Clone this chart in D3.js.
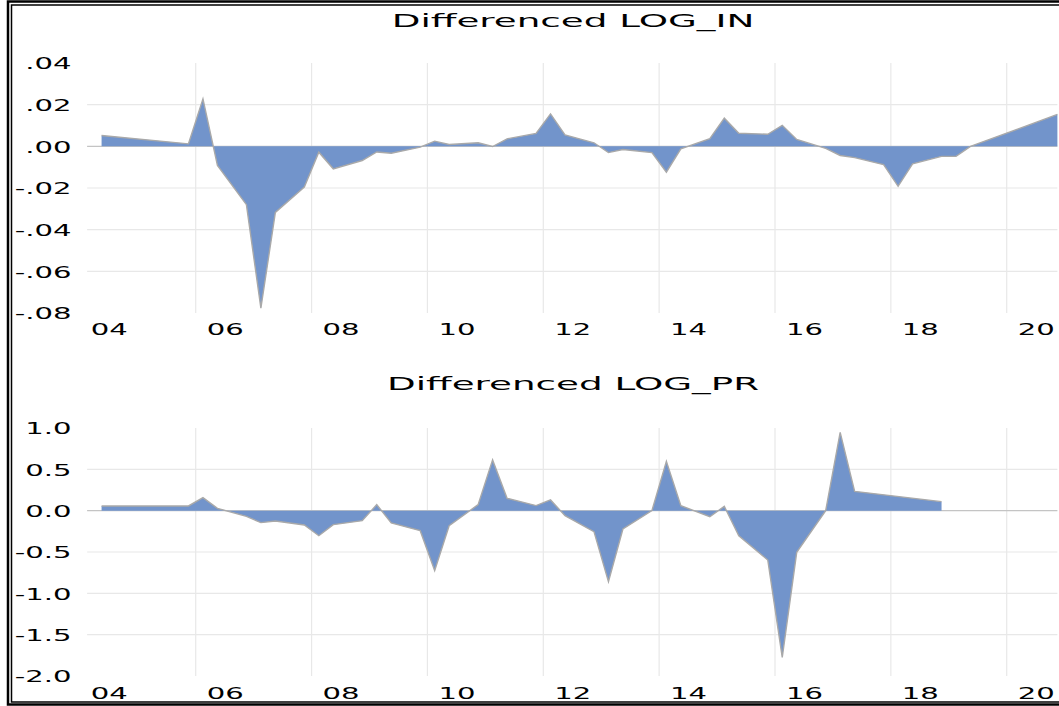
<!DOCTYPE html>
<html>
<head>
<meta charset="utf-8">
<script src="https://cdn.jsdelivr.net/npm/d3@7"></script>
<style>
  html, body { margin: 0; padding: 0; background: #fff; }
  text { font-family: "DejaVu Sans", Verdana, sans-serif; fill: #000; }
</style>
</head>
<body>
<div id="chart"></div>
<script>
// Data (quarterly, vertices)
const inQuarters = ["2004Q2","2005Q4","2006Q1","2006Q2","2006Q4","2007Q1","2007Q2","2007Q4",
  "2008Q1","2008Q2","2008Q4","2009Q1","2009Q2","2009Q4","2010Q1","2010Q2","2010Q4","2011Q1",
  "2011Q2","2011Q4","2012Q1","2012Q2","2012Q4","2013Q1","2013Q2","2013Q4","2014Q1","2014Q2",
  "2014Q4","2015Q1","2015Q2","2015Q4","2016Q1","2016Q2","2016Q4","2017Q1","2017Q2","2017Q4",
  "2018Q1","2018Q2","2018Q4","2019Q1","2019Q2","2020Q4"];
const inValues = [0.0052, 0.0012, 0.0228, -0.0092, -0.0280, -0.0777, -0.0317, -0.0195,
  -0.0028, -0.0108, -0.0068, -0.0027, -0.0033, -0.0004, 0.0025, 0.0009, 0.0017, -0.0001,
  0.0036, 0.0062, 0.0156, 0.0055, 0.0017, -0.0030, -0.0015, -0.0030, -0.0124, -0.0012,
  0.0037, 0.0135, 0.0063, 0.0058, 0.0101, 0.0033, -0.0010, -0.0044, -0.0054, -0.0088,
  -0.0192, -0.0084, -0.0048, -0.0048, 0.0000, 0.0153];

const prQuarters = ["2004Q2","2005Q4","2006Q1","2006Q2","2006Q4","2007Q1","2007Q2","2007Q4",
  "2008Q1","2008Q2","2008Q4","2009Q1","2009Q2","2009Q4","2010Q1","2010Q2","2010Q4","2011Q1",
  "2011Q2","2011Q4","2012Q1","2012Q2","2012Q4","2013Q1","2013Q2","2013Q4","2014Q1","2014Q2",
  "2014Q4","2015Q1","2015Q2","2015Q4","2016Q1","2016Q2","2016Q4","2017Q1","2017Q2","2018Q4"];
const prValues = [0.057, 0.057, 0.157, 0.028, -0.069, -0.145, -0.125, -0.173,
  -0.303, -0.169, -0.121, 0.073, -0.149, -0.242, -0.726, -0.182, 0.073, 0.614,
  0.149, 0.061, 0.130, -0.060, -0.254, -0.860, -0.222, 0.000, 0.597, 0.060,
  -0.073, 0.052, -0.303, -0.597, -1.776, -0.504, 0.000, 0.948, 0.234, 0.109];

const inTickValues = [0.04, 0.02, 0, -0.02, -0.04, -0.06, -0.08];
const inTickLabels = [".04", ".02", ".00", "-.02", "-.04", "-.06", "-.08"];
const prTickValues = [1, 0.5, 0, -0.5, -1, -1.5, -2];
const prTickLabels = ["1.0", "0.5", "0.0", "-0.5", "-1.0", "-1.5", "-2.0"];

const yearGrid = [2006, 2008, 2010, 2012, 2014, 2016, 2018, 2020];
const yearLabelPos = [2004.5, 2006.5, 2008.5, 2010.5, 2012.5, 2014.5, 2016.5, 2018.5, 2020.5];
const yearLabels = ["04", "06", "08", "10", "12", "14", "16", "18", "20"];

// Layout
const W = 1059, H = 706;
const left = 87.1, right = 1057.4;
const stretchTick = 1.82, stretchTitle = 2.07;
const fillColor = "#7294cb", lineColor = "#a9a9a9", gridColor = "#e8e8e8", zeroColor = "#c4c4c4";

const svg = d3.select("#chart").append("svg")
  .attr("width", W).attr("height", H);

svg.append("rect").attr("width", W).attr("height", H).attr("fill", "#fff");

const x = d3.scaleLinear().domain([2004.125, 2020.875]).range([left, right]);
const qToYear = q => +q.slice(0, 4) + (+q.slice(5) - 0.5) / 4;

const panels = [
  { title: "Differenced LOG_IN", quarters: inQuarters, values: inValues,
    ticks: inTickValues, labels: inTickLabels, domain: [-0.08, 0.04],
    top: 63, bottom: 313, titleY: 27, xLabelY: 335 },
  { title: "Differenced LOG_PR", quarters: prQuarters, values: prValues,
    ticks: prTickValues, labels: prTickLabels, domain: [-2, 1],
    top: 428, bottom: 676, titleY: 390, xLabelY: 699 }
];

panels.forEach(p => {
  const y = d3.scaleLinear().domain(p.domain).range([p.bottom, p.top]);
  const g = svg.append("g");

  // title
  g.append("text")
    .attr("transform", `translate(573,${p.titleY}) scale(${stretchTitle},1)`)
    .attr("text-anchor", "middle")
    .style("font-size", "18px")
    .text(p.title);

  // horizontal grid (interior ticks only)
  g.selectAll(".hgrid")
    .data(p.ticks.filter(t => t !== 0 && t !== p.domain[0] && t !== p.domain[1]))
    .join("line")
    .attr("x1", left).attr("x2", right)
    .attr("y1", d => y(d)).attr("y2", d => y(d))
    .attr("stroke", gridColor).attr("stroke-width", 1.2);

  // vertical grid
  g.selectAll(".vgrid").data(yearGrid).join("line")
    .attr("x1", d => x(d)).attr("x2", d => x(d))
    .attr("y1", p.top).attr("y2", p.bottom)
    .attr("stroke", gridColor).attr("stroke-width", 1.2);

  // zero line
  g.append("line")
    .attr("x1", left).attr("x2", right)
    .attr("y1", y(0)).attr("y2", y(0))
    .attr("stroke", zeroColor).attr("stroke-width", 1.2);

  const pts = p.quarters.map((q, i) => [qToYear(q), p.values[i]]);

  g.append("path")
    .datum(pts)
    .attr("fill", fillColor)
    .attr("d", d3.area().x(d => x(d[0])).y0(y(0)).y1(d => y(d[1])));

  g.append("path")
    .datum(pts)
    .attr("fill", "none")
    .attr("stroke", lineColor)
    .attr("stroke-width", 1.4)
    .attr("stroke-linejoin", "miter")
    .attr("d", d3.line().x(d => x(d[0])).y(d => y(d[1])));

  // y axis labels
  const yAxis = g.append("g")
    .attr("transform", `translate(${left},0)`)
    .call(d3.axisLeft(y).tickValues(p.ticks)
      .tickFormat((d, i) => p.labels[i]).tickSize(0).tickPadding(8.5));
  yAxis.select(".domain").remove();
  yAxis.selectAll("text")
    .attr("transform", `scale(${stretchTick},1)`)
    .attr("dy", "0.36em")
    .style("font-size", "16px")
    .style("font-family", "'DejaVu Sans', Verdana, sans-serif")
    .attr("fill", "#000");

  // x axis labels
  const xAxis = g.append("g")
    .attr("transform", `translate(0,${p.xLabelY})`)
    .call(d3.axisBottom(x).tickValues(yearLabelPos)
      .tickFormat((d, i) => yearLabels[i]).tickSize(0).tickPadding(0));
  xAxis.select(".domain").remove();
  xAxis.selectAll("text")
    .attr("y", 0).attr("dy", 0)
    .attr("transform", `scale(${stretchTick},1)`)
    .style("font-size", "16px")
    .style("font-family", "'DejaVu Sans', Verdana, sans-serif")
    .attr("fill", "#000");
});

// double frame
svg.append("rect")
  .attr("x", 8).attr("y", 1.5).attr("width", W + 20).attr("height", 703)
  .attr("fill", "none").attr("stroke", "#000").attr("stroke-width", 2.5);
svg.append("rect")
  .attr("x", 11.5).attr("y", 5).attr("width", W + 10).attr("height", 697)
  .attr("fill", "none").attr("stroke", "#000").attr("stroke-width", 1.5);
</script>
</body>
</html>
